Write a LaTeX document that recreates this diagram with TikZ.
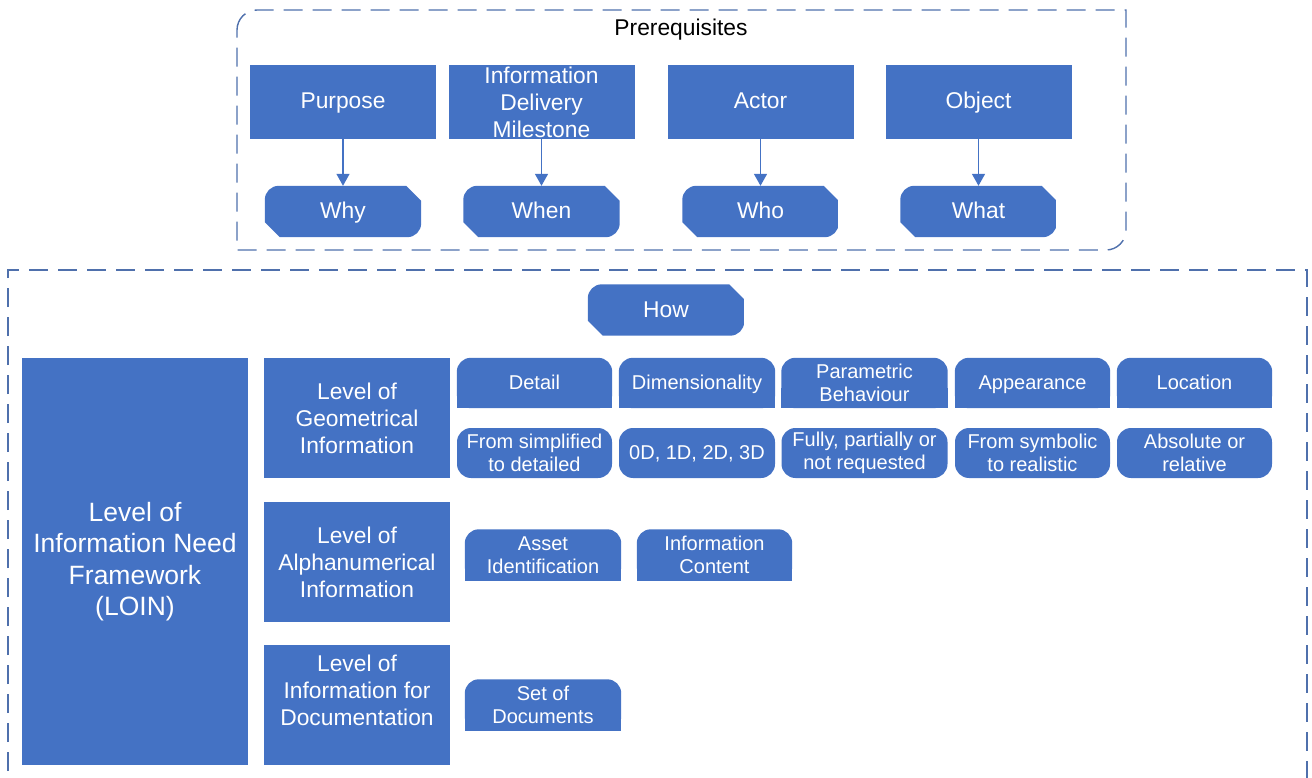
\documentclass[tikz,border=0pt]{standalone}
\usepackage{fontspec}
\setmainfont{Liberation Sans}
\usetikzlibrary{arrows.meta}
\definecolor{boxblue}{HTML}{4472C4}
\definecolor{dashblue}{HTML}{4F70AC}
\pgfdeclarelayer{background}
\pgfsetlayers{background,main}

% snipped top-right / bottom-left corners, rounded top-left / bottom-right
\newcommand\snipfill[1]{%
  \begin{pgfonlayer}{background}
  \begin{scope}
    \clip (#1.north west) -- ([xshift=-15pt]#1.north east) -- ([yshift=-15pt]#1.north east)
      -- (#1.south east) -- ([xshift=15pt]#1.south west) -- ([yshift=15pt]#1.south west) -- cycle;
    \fill[boxblue, rounded corners=14pt] (#1.north west) rectangle (#1.south east);
  \end{scope}
  \end{pgfonlayer}}

% rounded top corners, square bottom corners
\newcommand\toproundfill[1]{%
  \begin{pgfonlayer}{background}
    \fill[boxblue, rounded corners=14pt] (#1.north west) rectangle (#1.south east);
    \fill[boxblue] (#1.south west) rectangle ([yshift=20pt]#1.south east);
  \end{pgfonlayer}}

\tikzset{
  bigfont/.style={font=\fontsize{22.8pt}{27pt}\selectfont},
  smallfont/.style={font=\fontsize{20pt}{23.5pt}\selectfont},
  bigline/.style={text height=19pt, text depth=5pt},
  smallline/.style={text height=17pt, text depth=5pt},
  plainbox/.style={fill=boxblue, text=white, align=center, inner sep=0pt, bigfont},
  topbox/.style={plainbox, minimum width=186pt, minimum height=74pt},
  levelbox/.style={plainbox, minimum width=186pt, minimum height=120pt},
  snipnode/.style={text=white, align=center, inner sep=0pt, bigfont, bigline,
    minimum width=156pt, minimum height=51pt},
  featbox/.style={text=white, align=center, inner sep=0pt, smallfont,
    minimum height=50pt},
  valbox/.style={fill=boxblue, rounded corners=14pt, text=white, align=center,
    inner sep=0pt, smallfont, minimum height=50pt},
  arrowline/.style={draw=boxblue, line width=1.5pt, -{Triangle[width=13pt,length=12pt]}},
  groupline/.style={draw=dashblue, line width=1.4pt, dash pattern=on 19pt off 10pt},
}

\begin{document}
\begin{tikzpicture}[x=1pt, y=-1pt]
\path[use as bounding box] (0,0) rectangle (1312,778);
\clip (0,0) rectangle (1312,778);

% prerequisites group
\draw[groupline] (237,30) .. controls (237,18.95) and (245.95,10) .. (257,10)
  -- (1126,10) -- (1126,230) .. controls (1126,241.05) and (1117.05,250) .. (1106,250)
  -- (237,250) -- cycle;
\node[bigfont, bigline, text=black, inner sep=0pt] (prereq) at (681,29) {Prerequisites};

\node[topbox, bigline] (purpose) at (343,102) {Purpose};
\node[topbox] (idm) at (541.5,102) {Information\\Delivery\\Milestone};
\node[topbox, bigline] (actor) at (760.5,102) {Actor};
\node[topbox, bigline] (object) at (978.5,102) {Object};

\node[snipnode] (why) at (343,211.5) {Why};
\node[snipnode] (when) at (541.5,211.5) {When};
\node[snipnode] (who) at (760.5,211.5) {Who};
\node[snipnode] (what) at (978.5,211.5) {What};
\snipfill{why}\snipfill{when}\snipfill{who}\snipfill{what}

\draw[arrowline] (purpose) -- (why);
\draw[arrowline] (idm) -- (when);
\draw[arrowline] (actor) -- (who);
\draw[arrowline] (object) -- (what);

% LOIN group
\draw[groupline] (8,800) -- (8,270) -- (1307,270) -- (1307,800);

\node[snipnode] (how) at (666,310) {How};
\snipfill{how}

\node[plainbox, minimum width=226pt, minimum height=407pt,
  font=\fontsize{26.5pt}{31.5pt}\selectfont] (loin) at (135,561.5)
  {Level of\\Information Need\\Framework\\(LOIN)};

\node[levelbox] (lgeo) at (357,418) {Level of\\Geometrical\\Information};
\node[levelbox] (lalpha) at (357,562) {Level of\\Alphanumerical\\Information};
\node[levelbox] (ldoc) at (357,705) {};
\node[text=white, align=center, inner sep=0pt, bigfont] (ldoctext) at (357,690)
  {Level of\\Information for\\Documentation};

% geometrical aspects
\node[featbox, smallline, minimum width=155pt] (detail) at (534.5,383) {Detail};
\node[featbox, smallline, minimum width=156pt] (dim) at (697,383) {Dimensionality};
\node[featbox, minimum width=166pt] (param) at (864.5,383) {Parametric\\Behaviour};
\node[featbox, smallline, minimum width=155pt] (appear) at (1032.5,383) {Appearance};
\node[featbox, smallline, minimum width=155pt] (loc) at (1194.5,383) {Location};
\toproundfill{detail}\toproundfill{dim}\toproundfill{param}\toproundfill{appear}\toproundfill{loc}

\node[valbox, minimum width=155pt] (vdetail) at (534.5,453) {From simplified\\to detailed};
\node[valbox, smallline, minimum width=156pt] (vdim) at (697,453) {0D, 1D, 2D, 3D};
\node[valbox, minimum width=166pt] (vparam) at (864.5,453) {Fully, partially or\\not requested};
\node[valbox, minimum width=155pt] (vappear) at (1032.5,453) {From symbolic\\to realistic};
\node[valbox, minimum width=155pt] (vloc) at (1194.5,453) {Absolute or\\relative};

% alphanumerical aspects
\node[featbox, minimum width=156pt, minimum height=51pt] (asset) at (543,555) {Asset\\Identification};
\node[featbox, minimum width=155pt, minimum height=51pt] (content) at (714.5,555) {Information\\Content};
\toproundfill{asset}\toproundfill{content}

% documentation aspects
\node[featbox, minimum width=156pt, minimum height=51pt] (docs) at (543,705) {Set of\\Documents};
\toproundfill{docs}
\end{tikzpicture}
\end{document}
